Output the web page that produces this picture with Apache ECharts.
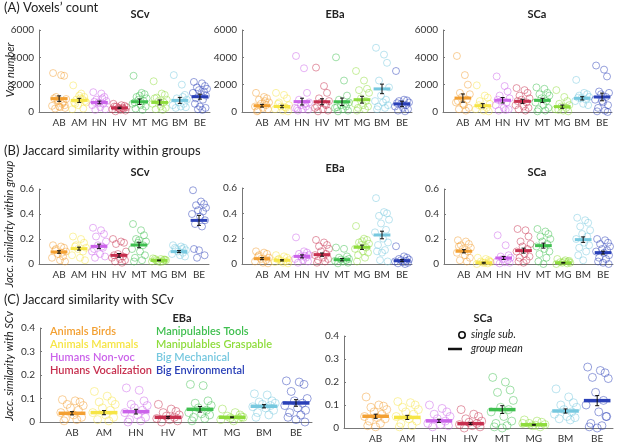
<!DOCTYPE html>
<html lang="en" style="height: 100%">
<head>
  <meta charset="UTF-8">
  <title>Voxel count and Jaccard similarity</title>
</head>
<body style="height: 100%; margin: 0; background: #fff">
<div id="container" style="width: 617px; height: 444px"></div>
<script type="text/javascript" src="https://cdn.jsdelivr.net/npm/echarts@6/dist/echarts.min.js"></script>

<script type="text/javascript">
  // categories and legend names
  var categories = ['AB', 'AM', 'HN', 'HV', 'MT', 'MG', 'BM', 'BE'];
  var legendNames = ['Animals Birds', 'Animals Mammals', 'Humans Non-voc', 'Humans Vocalization',
    'Manipulables Tools', 'Manipulables Graspable', 'Big Mechanical', 'Big Environmental'];

  // (A) voxel count, single subjects
  var voxSCv = [
    [2850, 2700, 2650, 1100, 950, 800, 700, 450, 350, 300, 250, 600, 1000, 400, 500, 900],
    [1950, 1350, 1100, 900, 700, 500, 250, 200, 1000, 800, 600, 950, 700, 1200],
    [1450, 1350, 1100, 900, 800, 700, 600, 500, 350, 200, 150, 1000, 750, 650],
    [600, 500, 450, 400, 350, 300, 250, 200, 150, 100, 50, 300, 400, 250],
    [2650, 1400, 1300, 1100, 1000, 900, 800, 600, 500, 400, 250, 150, 700, 1200],
    [2250, 1350, 1250, 1050, 900, 800, 700, 600, 400, 300, 200, 150, 1000],
    [2700, 2000, 1250, 1000, 900, 700, 600, 500, 400, 350, 300, 1100],
    [2200, 2100, 1900, 1800, 1700, 1600, 1500, 1400, 1300, 1200, 1000, 900, 600, 400, 300, 200, 150]
  ];
  var voxSCvMean = [980, 850, 700, 300, 750, 700, 850, 1120];
  var voxSCvSem = [200, 150, 100, 50, 200, 180, 220, 180];

  var voxEBa = [
    [1400, 1100, 1000, 900, 700, 600, 500, 400, 300, 200, 100, 800, 50],
    [1400, 1250, 1000, 700, 500, 400, 300, 200, 100, 50, 600, 350],
    [4100, 3200, 1400, 900, 700, 500, 400, 300, 200, 150, 100, 600, 250],
    [3250, 1900, 1400, 1000, 800, 700, 500, 300, 200, 100, 50, 600, 400],
    [4000, 2300, 1200, 900, 700, 500, 400, 300, 200, 100, 50, 600, 350],
    [3000, 2300, 1700, 1600, 1400, 1000, 800, 600, 500, 400, 300, 200, 100],
    [4700, 4200, 3600, 2300, 1800, 1200, 900, 800, 700, 500, 400, 300, 200],
    [3000, 900, 850, 800, 700, 600, 500, 400, 300, 200, 100, 50, 650]
  ];
  var voxEBaMean = [460, 400, 760, 750, 750, 900, 1690, 590];
  var voxEBaSem = [100, 90, 250, 220, 270, 250, 350, 200];

  var voxSCa = [
    [4100, 2700, 2000, 1400, 1300, 1100, 900, 700, 500, 300, 200, 100, 800, 600],
    [1950, 1200, 1050, 800, 600, 400, 300, 200, 100, 50, 500],
    [2600, 1900, 1500, 1200, 1000, 800, 700, 500, 300, 200, 100, 150, 900],
    [1750, 1600, 1400, 1200, 1000, 900, 700, 500, 400, 300, 200, 100, 800],
    [1800, 1700, 1400, 1300, 1200, 1000, 800, 700, 500, 300, 200, 100, 50],
    [1600, 1100, 800, 600, 500, 400, 300, 200, 100, 50, 150],
    [2350, 1400, 1300, 1200, 1100, 1000, 900, 800, 600, 500, 1050],
    [3400, 3100, 2600, 1500, 1400, 1300, 1100, 900, 700, 500, 300, 100, 50, 800, 0]
  ];
  var voxSCaMean = [1020, 460, 860, 780, 850, 390, 1000, 1100];
  var voxSCaSem = [300, 150, 200, 150, 150, 120, 120, 280];

  // (B) Jaccard similarity within groups
  var withinSCv = [
    [0.15, 0.14, 0.13, 0.12, 0.10, 0.08, 0.06, 0.05, 0.03, 0.02, 0.11, 0.09],
    [0.22, 0.20, 0.17, 0.15, 0.13, 0.12, 0.10, 0.07, 0.05, 0.03, 0.14],
    [0.29, 0.27, 0.24, 0.22, 0.18, 0.15, 0.13, 0.10, 0.08, 0.06, 0.05, 0.14, 0.12],
    [0.20, 0.18, 0.17, 0.16, 0.10, 0.08, 0.06, 0.05, 0.04, 0.03, 0.02, 0.01, 0.07],
    [0.32, 0.27, 0.23, 0.20, 0.18, 0.17, 0.15, 0.12, 0.10, 0.07, 0.05, 0.03, 0.02, 0.19],
    [0.045, 0.04, 0.035, 0.03, 0.03, 0.025, 0.02, 0.02, 0.015, 0.035, 0.04],
    [0.15, 0.14, 0.13, 0.12, 0.11, 0.10, 0.09, 0.08, 0.07, 0.06, 0.13, 0.12],
    [0.59, 0.50, 0.48, 0.47, 0.45, 0.43, 0.42, 0.40, 0.38, 0.35, 0.32, 0.30, 0.12, 0.11, 0.07, 0.05]
  ];
  var withinSCvMean = [0.096, 0.123, 0.141, 0.069, 0.152, 0.029, 0.099, 0.349];
  var withinSCvSem = [0.01, 0.012, 0.018, 0.015, 0.022, 0.003, 0.008, 0.04];

  var withinEBa = [
    [0.10, 0.09, 0.08, 0.07, 0.05, 0.04, 0.03, 0.02, 0.01, 0.005, 0.06],
    [0.07, 0.06, 0.05, 0.04, 0.03, 0.025, 0.02, 0.015, 0.01, 0.005, 0.035],
    [0.21, 0.10, 0.09, 0.08, 0.07, 0.06, 0.05, 0.04, 0.03, 0.02, 0.01, 0.065],
    [0.19, 0.17, 0.15, 0.14, 0.12, 0.10, 0.08, 0.07, 0.05, 0.04, 0.03, 0.02, 0.01],
    [0.13, 0.12, 0.06, 0.05, 0.04, 0.035, 0.03, 0.025, 0.02, 0.01, 0.005],
    [0.30, 0.20, 0.19, 0.17, 0.16, 0.15, 0.13, 0.12, 0.10, 0.09, 0.07, 0.05, 0.02, 0.18],
    [0.52, 0.41, 0.40, 0.38, 0.35, 0.32, 0.27, 0.25, 0.20, 0.17, 0.15, 0.11, 0.10, 0.09, 0.02, 0.03],
    [0.14, 0.06, 0.05, 0.04, 0.035, 0.03, 0.025, 0.02, 0.015, 0.01, 0.005, 0.0]
  ];
  var withinEBaMean = [0.042, 0.029, 0.06, 0.074, 0.034, 0.132, 0.229, 0.026];
  var withinEBaSem = [0.008, 0.005, 0.012, 0.013, 0.01, 0.017, 0.03, 0.008];

  var withinSCa = [
    [0.19, 0.18, 0.16, 0.15, 0.13, 0.12, 0.10, 0.09, 0.07, 0.05, 0.03, 0.02, 0.14],
    [0.05, 0.04, 0.03, 0.02, 0.015, 0.01, 0.005, 0.0, 0.01, 0.02],
    [0.23, 0.15, 0.07, 0.06, 0.05, 0.04, 0.03, 0.02, 0.015, 0.01, 0.005],
    [0.28, 0.27, 0.22, 0.18, 0.16, 0.14, 0.12, 0.10, 0.08, 0.06, 0.05, 0.03, 0.02, 0.01],
    [0.28, 0.26, 0.24, 0.22, 0.20, 0.18, 0.16, 0.14, 0.12, 0.10, 0.08, 0.05, 0.02, 0.0],
    [0.04, 0.03, 0.02, 0.015, 0.01, 0.01, 0.005, 0.0, 0.02, 0.025],
    [0.37, 0.35, 0.33, 0.30, 0.27, 0.24, 0.22, 0.20, 0.17, 0.15, 0.13, 0.10, 0.07, 0.03],
    [0.20, 0.19, 0.17, 0.16, 0.14, 0.12, 0.11, 0.10, 0.09, 0.07, 0.05, 0.04, 0.02, 0.01, 0.0]
  ];
  var withinSCaMean = [0.102, 0.01, 0.048, 0.107, 0.147, 0.01, 0.195, 0.091];
  var withinSCaSem = [0.013, 0.004, 0.012, 0.02, 0.02, 0.003, 0.022, 0.012];

  // (C) Jaccard similarity with SCv
  var withEBa = [
    [0.095, 0.09, 0.085, 0.075, 0.07, 0.06, 0.05, 0.04, 0.03, 0.02, 0.015, 0.01, 0.005],
    [0.13, 0.11, 0.09, 0.085, 0.075, 0.06, 0.05, 0.04, 0.03, 0.02, 0.01, 0.005],
    [0.145, 0.135, 0.09, 0.075, 0.07, 0.06, 0.05, 0.04, 0.03, 0.02, 0.01, 0.005, 0.0],
    [0.075, 0.055, 0.045, 0.04, 0.03, 0.025, 0.02, 0.015, 0.01, 0.005, 0.0],
    [0.16, 0.155, 0.09, 0.08, 0.07, 0.06, 0.05, 0.04, 0.035, 0.03, 0.02, 0.015, 0.005],
    [0.055, 0.04, 0.03, 0.025, 0.02, 0.018, 0.015, 0.01, 0.005, 0.022],
    [0.12, 0.115, 0.09, 0.085, 0.08, 0.075, 0.07, 0.065, 0.06, 0.05, 0.04, 0.03, 0.02],
    [0.175, 0.17, 0.16, 0.13, 0.1, 0.09, 0.08, 0.07, 0.06, 0.05, 0.04, 0.03, 0.02, 0.01, 0.0]
  ];
  var withEBaMean = [0.037, 0.04, 0.044, 0.02, 0.054, 0.02, 0.067, 0.081];
  var withEBaSem = [0.007, 0.009, 0.01, 0.004, 0.012, 0.002, 0.007, 0.014];

  var withSCa = [
    [0.135, 0.1, 0.095, 0.09, 0.08, 0.07, 0.06, 0.05, 0.045, 0.04, 0.03, 0.02, 0.01, 0.005],
    [0.115, 0.11, 0.1, 0.09, 0.08, 0.07, 0.06, 0.05, 0.04, 0.03, 0.02, 0.01, 0.005],
    [0.1, 0.085, 0.07, 0.06, 0.05, 0.04, 0.03, 0.02, 0.015, 0.01, 0.005],
    [0.08, 0.06, 0.05, 0.04, 0.03, 0.025, 0.02, 0.015, 0.01, 0.005, 0.0],
    [0.22, 0.2, 0.165, 0.155, 0.12, 0.09, 0.08, 0.07, 0.05, 0.03, 0.02, 0.01, 0.005, 0.0],
    [0.035, 0.03, 0.025, 0.02, 0.015, 0.01, 0.005, 0.02, 0.012],
    [0.17, 0.135, 0.11, 0.1, 0.09, 0.08, 0.07, 0.06, 0.05, 0.045, 0.04, 0.035],
    [0.265, 0.25, 0.24, 0.22, 0.215, 0.155, 0.12, 0.1, 0.07, 0.05, 0.02, 0.01, 0.005, 0.0, 0.05]
  ];
  var withSCaMean = [0.051, 0.046, 0.031, 0.019, 0.08, 0.014, 0.074, 0.119];
  var withSCaSem = [0.009, 0.009, 0.007, 0.004, 0.017, 0.002, 0.009, 0.022];

  var colors = ['#f3a032', '#f6e545', '#cb63ea', '#c7304f', '#3fbf4f', '#8edc3c', '#76c8df', '#2a40b8'];
  // horizontal spread of single subjects around each category (layout only)
  var jitter = [-0.3, 0.1, 0.25, -0.15, 0.35, -0.05, 0.2, -0.35, 0.05, 0.3, -0.2, 0.15, -0.25, 0.0, 0.28, -0.1, 0.12];

  var font = 'Lato, "Noto Sans", sans-serif';

  var panels = [
    { grid: { left: 39, top: 30, width: 171, height: 82 }, pts: voxSCv, mean: voxSCvMean, sem: voxSCvSem, max: 6000, step: 2000, sym: 7, lw: 3 },
    { grid: { left: 242, top: 30, width: 170, height: 82 }, pts: voxEBa, mean: voxEBaMean, sem: voxEBaSem, max: 6000, step: 2000, sym: 7, lw: 3 },
    { grid: { left: 443, top: 30, width: 169, height: 82 }, pts: voxSCa, mean: voxSCaMean, sem: voxSCaSem, max: 6000, step: 2000, sym: 7, lw: 3 },
    { grid: { left: 39, top: 189, width: 170, height: 75 }, pts: withinSCv, mean: withinSCvMean, sem: withinSCvSem, max: 0.6, step: 0.2, sym: 7, lw: 3 },
    { grid: { left: 242, top: 188, width: 170, height: 76 }, pts: withinEBa, mean: withinEBaMean, sem: withinEBaSem, max: 0.6, step: 0.2, sym: 7, lw: 3 },
    { grid: { left: 444, top: 189, width: 169, height: 75 }, pts: withinSCa, mean: withinSCaMean, sem: withinSCaSem, max: 0.6, step: 0.2, sym: 7, lw: 3 },
    { grid: { left: 40, top: 328, width: 272, height: 94 }, pts: withEBa, mean: withEBaMean, sem: withEBaSem, max: 0.4, step: 0.1, sym: 8, lw: 3.5 },
    { grid: { left: 344, top: 336, width: 269, height: 93 }, pts: withSCa, mean: withSCaMean, sem: withSCaSem, max: 0.4, step: 0.1, sym: 8, lw: 3.5 }
  ];

  var dom = document.getElementById('container');
  var myChart = echarts.init(dom, null, { renderer: 'canvas' });

  var grids = [], xAxes = [], yAxes = [], series = [];

  panels.forEach(function (p, k) {
    grids.push(p.grid);
    xAxes.push({
      type: 'value', gridIndex: k, min: -1, max: 7.5, interval: 1,
      splitLine: { show: false },
      axisTick: { show: false },
      axisLine: { onZero: false, lineStyle: { color: '#777', width: 1 } },
      axisLabel: {
        color: '#333', fontSize: 10, fontFamily: font, margin: 6,
        formatter: function (v) { return categories[v] || ''; }
      }
    });
    yAxes.push({
      type: 'value', gridIndex: k, min: 0, max: p.max, interval: p.step,
      splitLine: { show: false },
      axisLine: { show: true, onZero: false, lineStyle: { color: '#777', width: 1 } },
      axisTick: { show: true, inside: true, length: 2, lineStyle: { color: '#777' } },
      axisLabel: {
        color: '#333', fontSize: 10, fontFamily: font, margin: 5,
        formatter: function (v) { return String(+v.toFixed(2)); }
      }
    });

    var pts = [];
    p.pts.forEach(function (vals, i) {
      vals.forEach(function (v, j) {
        pts.push({
          value: [i + jitter[j % jitter.length], v],
          itemStyle: { borderColor: colors[i] }
        });
      });
    });
    series.push({
      type: 'scatter', xAxisIndex: k, yAxisIndex: k, clip: false,
      symbol: 'circle', symbolSize: p.sym,
      itemStyle: { color: 'rgba(0,0,0,0)', borderWidth: 0.9, opacity: 0.55 },
      data: pts, silent: true, z: 2
    });

    var ms = p.mean.map(function (m, i) { return [i, m, p.sem[i]]; });
    series.push({
      type: 'custom', xAxisIndex: k, yAxisIndex: k, clip: false, z: 5, silent: true,
      renderItem: function (params, api) {
        var i = api.value(0), m = api.value(1), s = api.value(2);
        var a = api.coord([i - 0.42, m]), b = api.coord([i + 0.42, m]);
        var t = api.coord([i, m + s]), d = api.coord([i, m - s]);
        var ink = { stroke: '#111', lineWidth: 1 };
        return {
          type: 'group',
          children: [
            { type: 'line', shape: { x1: a[0], y1: a[1], x2: b[0], y2: b[1] }, style: { stroke: colors[i], lineWidth: p.lw } },
            { type: 'line', shape: { x1: t[0], y1: t[1], x2: d[0], y2: d[1] }, style: ink },
            { type: 'line', shape: { x1: t[0] - 2, y1: t[1], x2: t[0] + 2, y2: t[1] }, style: ink },
            { type: 'line', shape: { x1: d[0] - 2, y1: d[1], x2: d[0] + 2, y2: d[1] }, style: ink }
          ]
        };
      },
      data: ms
    });
  });

  function label(x, y, s, opts) {
    var o = { type: 'text', x: x, y: y, z: 10, style: { text: s, fill: '#222', font: (opts && opts.font) || ('12px ' + font), align: (opts && opts.align) || 'left', verticalAlign: 'middle' } };
    if (opts && opts.fill) o.style.fill = opts.fill;
    if (opts && opts.rotation) o.rotation = opts.rotation;
    return o;
  }

  var graphics = [
    label(4, 8, '(A) Voxels\u2019 count', { font: '13px ' + font }),
    label(4, 151, '(B) Jaccard similarity within groups', { font: '13px ' + font }),
    label(4, 300, '(C) Jaccard similarity with SCv', { font: '13px ' + font }),
    label(140, 14, 'SCv', { font: 'bold 11px ' + font, align: 'center' }),
    label(335, 14, 'EBa', { font: 'bold 11px ' + font, align: 'center' }),
    label(537, 14, 'SCa', { font: 'bold 11px ' + font, align: 'center' }),
    label(140, 172, 'SCv', { font: 'bold 11px ' + font, align: 'center' }),
    label(335, 168, 'EBa', { font: 'bold 11px ' + font, align: 'center' }),
    label(537, 172, 'SCa', { font: 'bold 11px ' + font, align: 'center' }),
    label(182, 318, 'EBa', { font: 'bold 11px ' + font, align: 'center' }),
    label(483, 318, 'SCa', { font: 'bold 11px ' + font, align: 'center' }),
    label(10, 70, 'Vox number', { font: 'italic 11px ' + font, align: 'center', rotation: Math.PI / 2 }),
    label(9, 224, 'Jacc. similarity within group', { font: 'italic 11px ' + font, align: 'center', rotation: Math.PI / 2 }),
    label(9, 366, 'Jacc. similarity with SCv', { font: 'italic 11px ' + font, align: 'center', rotation: Math.PI / 2 }),
    // second legend
    { type: 'circle', shape: { cx: 462, cy: 335, r: 3.2 }, style: { fill: 'none', stroke: '#111', lineWidth: 1.6 }, z: 10 },
    { type: 'line', shape: { x1: 448, y1: 349, x2: 462, y2: 349 }, style: { stroke: '#111', lineWidth: 2.5 }, z: 10 },
    label(471, 335, 'single sub.', { font: 'italic 10.5px ' + font }),
    label(471, 349, 'group mean', { font: 'italic 10.5px ' + font })
  ];
  legendNames.forEach(function (n, i) {
    var col = i < 4 ? 0 : 1, row = i % 4;
    graphics.push(label(col ? 156 : 50, 331 + row * 13, n, { font: '600 11px ' + font, fill: colors[i] }));
  });

  var option = {
    animation: false,
    textStyle: { fontFamily: font },
    grid: grids,
    xAxis: xAxes,
    yAxis: yAxes,
    series: series,
    graphic: graphics
  };
  myChart.setOption(option);

  window.addEventListener('resize', myChart.resize);
</script>
</body>
</html>
